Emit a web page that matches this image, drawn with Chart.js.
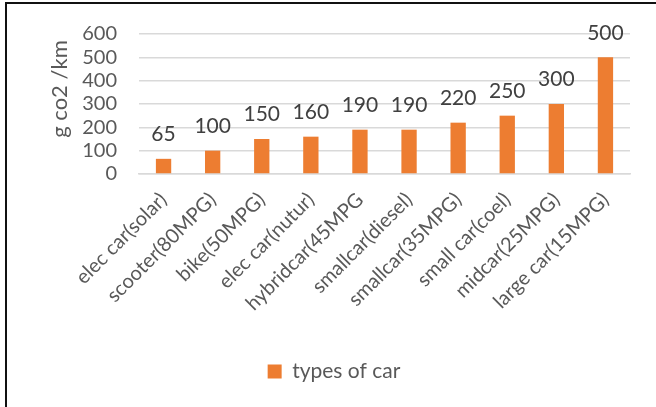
<!DOCTYPE html>
<html>
<head>
<meta charset="utf-8">
<script src="https://cdn.jsdelivr.net/npm/chart.js@4.4.1/dist/chart.umd.min.js"></script>
<style>
  html, body { margin: 0; padding: 0; background: #fff; }
  #wrap { width: 656px; height: 407px; position: relative; }
</style>
</head>
<body>
<div id="wrap"><canvas id="chart" width="656" height="407"></canvas></div>
<script>
// categories and values
const carTypes = [
    'elec car(solar)', 'scooter(80MPG)', 'bike(50MPG)', 'elec car(nutur)', 'hybridcar(45MPG',
    'smallcar(diesel)', 'smallcar(35MPG)', 'small car(coel)', 'midcar(25MPG)', 'large car(15MPG)'
];
const co2PerKm = [65, 100, 150, 160, 190, 190, 220, 250, 300, 500];
const seriesName = 'types of car';
const axisTitle = 'g co2 /km';

const FONT = 'Lato, "Open Sans", sans-serif';
const ORANGE = '#ED7D31';

// frame lines on left and top like the screenshot
const framePlugin = {
    id: 'frame',
    beforeDraw(chart) {
        const ctx = chart.ctx;
        ctx.save();
        ctx.fillStyle = '#fff';
        ctx.fillRect(0, 0, chart.width, chart.height);
        ctx.fillStyle = '#111';
        ctx.fillRect(5, 2, 2, chart.height - 2);
        ctx.fillRect(5, 2, chart.width - 5, 2);
        ctx.restore();
    }
};

// value labels above each bar + y axis title (sits a bit above centre in the original)
const valueLabels = {
    id: 'valueLabels',
    afterDatasetsDraw(chart) {
        const ctx = chart.ctx;
        const meta = chart.getDatasetMeta(0);
        ctx.save();
        ctx.font = '21px ' + FONT;
        ctx.fillStyle = '#404040';
        ctx.textAlign = 'center';
        ctx.textBaseline = 'bottom';
        meta.data.forEach((bar, i) => {
            ctx.fillText(String(co2PerKm[i]), bar.x, bar.y - 14);
        });
        ctx.restore();

        const area = chart.chartArea;
        ctx.save();
        ctx.translate(60, area.top + (area.bottom - area.top) / 2 - 15);
        ctx.rotate(-Math.PI / 2);
        ctx.font = '22px ' + FONT;
        ctx.fillStyle = '#595959';
        ctx.textAlign = 'center';
        ctx.textBaseline = 'middle';
        ctx.fillText(axisTitle, 0, 0);
        ctx.restore();
    }
};

new Chart(document.getElementById('chart'), {
    type: 'bar',
    data: {
        labels: carTypes,
        datasets: [{
            label: seriesName,
            data: co2PerKm,
            backgroundColor: ORANGE,
            borderWidth: 0,
            barPercentage: 0.6,
            categoryPercentage: 0.52
        }]
    },
    options: {
        responsive: false,
        animation: false,
        layout: { padding: { left: 38, right: 26, top: 33, bottom: 15 } },
        scales: {
            x: {
                grid: { display: false, drawTicks: false },
                border: { color: '#D9D9D9', width: 1.5 },
                ticks: {
                    color: '#595959',
                    font: { family: FONT, size: 20 },
                    maxRotation: 45,
                    minRotation: 45,
                    padding: 14,
                    autoSkip: false
                },
                afterFit(scale) { scale.height = 181; }
            },
            y: {
                min: 0,
                max: 600,
                ticks: {
                    stepSize: 100,
                    autoSkip: false,
                    color: '#595959',
                    font: { family: FONT, size: 20 },
                    padding: 22
                },
                grid: { color: '#D9D9D9', lineWidth: 1.5, drawTicks: false },
                border: { display: false },
                afterFit(scale) { scale.width = 101; }
            }
        },
        plugins: {
            legend: {
                position: 'bottom',
                labels: {
                    boxWidth: 14,
                    boxHeight: 14,
                    color: '#595959',
                    font: { family: FONT, size: 21 },
                    padding: 6
                }
            },
            tooltip: { enabled: false }
        }
    },
    plugins: [framePlugin, valueLabels]
});
</script>
</body>
</html>
